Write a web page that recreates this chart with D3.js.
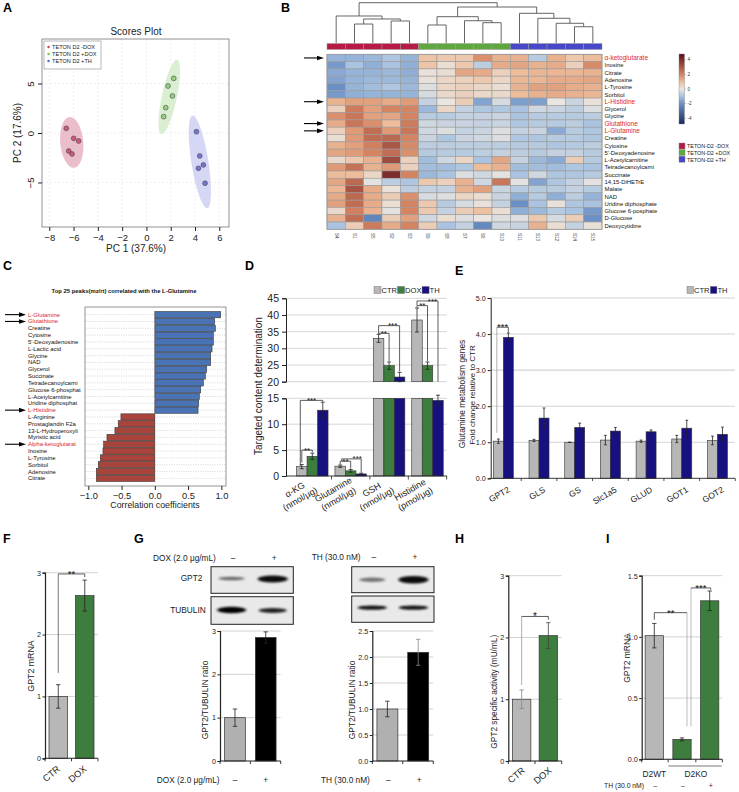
<!DOCTYPE html>
<html><head><meta charset="utf-8">
<script src="https://cdn.jsdelivr.net/npm/d3@7/dist/d3.min.js"></script>
<style>
html,body{margin:0;padding:0;background:#fff;}
svg{display:block;font-family:"Liberation Sans",Arial,Helvetica,sans-serif;}
</style></head><body>
<svg id="fig" width="739" height="792" viewBox="0 0 739 792"></svg>
<script>
// ================= DATA =================
// A: PCA scores
const pcaLegend = ["TETON D2 -DOX","TETON D2 +DOX","TETON D2 +TH"];
const pcaXTicks = [-8,-6,-4,-2,0,2,4,6];
const pcaYTicks = [-5,0,5];
const pcaMinusDox = [[-6.6,0.47],[-5.99,-0.54],[-5.58,-0.81],[-6.4,-1.82],[-6.13,-2.12]];
const pcaPlusDox  = [[2.25,5.52],[1.78,4.75],[2.14,3.74],[1.59,2.56],[1.42,1.65]];
const pcaPlusTH   = [[4.12,0.13],[4.39,-2.32],[4.69,-3.23],[4.28,-3.57],[4.83,-5.08]];
// confidence ellipses: [cx, cy, semi-axis x, semi-axis y, tilt deg]
const pcaEllipses = [[-6.15,-0.95,0.95,2.58,-5],[1.88,3.64,0.62,3.85,12],[4.4,-2.92,0.7,4.75,-9]];

// B: heatmap
const hmSamples = ["S4","S1","S5","S2","S3","S9","S8","S7","S6","S10","S11","S13","S12","S14","S15"];
const hmSampleGroup = [0,0,0,0,0,1,1,1,1,1,2,2,2,2,2];
const hmMetabolites = ["α-ketoglutarate","Inosine","Citrate","Adenosine","L-Tyrosine","Sorbitol","L-Histidine","Glycerol","Glycine","Glutathione","L-Glutamine","Creatine","Cytosine","5'-Deoxyadenosine","L-Acetylcarnitine","Tetradecanoylcarni","Succinate","14,15-DiHETrE","Malate","NAD","Uridine diphosphate","Glucose 6-posphate","D-Glucose","Deoxycytidine"];
const hmHighlight = ["α-ketoglutarate","L-Histidine","Glutathione","L-Glutamine"];
const hmValues = [
 [-1.3,-1.3,-1.2,-0.9,-1.3, 0.8,0.7,0.7,1.8,1.2, 1.2,-0.8,1.2,0.7,1.0],
 [-1.8,-1.0,-1.4,-1.0,-1.4, 0.8,0.2,0.7,-0.7,1.3, 1.4,1.2,1.3,0.5,1.9],
 [-1.5,-1.3,-1.3,-1.2,-1.4, 0.1,0.2,1.4,1.3,0.5, 1.0,1.1,1.1,1.1,1.2],
 [-1.6,-1.3,-1.2,-1.2,-1.3, 0.1,0.4,0.5,0.7,0.4, 1.1,1.1,1.3,1.3,1.4],
 [-2.0,-1.3,-1.1,-0.9,-1.2, -0.2,0.4,0.5,0.4,0.2, 1.2,1.5,1.5,1.3,1.2],
 [-1.8,-1.4,-1.3,-1.3,-1.3, -0.3,0.3,0.5,0.3,0.3, 1.0,1.2,1.3,1.2,1.1],
 [1.2,1.5,1.5,1.3,1.6, -0.6,0.0,0.6,-1.6,-0.3, -1.7,-1.7,0.0,-0.5,0.1],
 [0.5,2.2,1.5,2.0,2.0, -1.2,0.4,-0.6,-0.9,-0.9, -1.0,-0.4,-0.5,-0.7,-0.2],
 [1.8,2.3,1.5,1.4,2.0, -0.8,-0.8,-0.6,-0.6,-0.5, -1.0,-0.8,-0.8,-0.8,-0.7],
 [1.3,2.3,1.8,1.0,2.2, -0.4,-0.5,-0.5,-0.6,-0.5, -0.9,-0.8,-0.8,-0.7,-1.0],
 [0.5,1.6,2.5,1.6,2.3, -0.4,-0.2,-0.6,-0.5,-0.2, -0.6,-0.5,-1.5,-0.8,-0.9],
 [0.2,1.6,2.5,2.6,2.0, -0.5,-0.9,-0.5,-0.4,-0.2, -0.9,-0.9,-0.8,-0.8,-0.9],
 [1.2,1.5,2.1,3.0,1.9, -0.7,-0.7,-0.7,-0.7,-0.7, -0.8,-0.8,-0.9,-0.8,-0.7],
 [1.4,1.6,2.0,2.5,1.8, -0.8,-0.8,-0.8,-0.7,-0.6, -0.7,-0.8,-0.6,-0.6,-0.8],
 [0.3,0.7,1.2,3.3,0.5, -1.1,-0.4,0.4,-1.0,1.4, -0.6,-1.2,-1.5,0.6,-0.8],
 [1.6,2.4,1.2,1.6,0.5, -1.1,-1.1,-0.9,1.0,1.2, -1.1,-1.1,-1.1,-0.9,-1.0],
 [1.0,1.0,0.4,4.0,2.0, -1.2,-1.0,-0.2,-0.4,-0.1, -1.0,-0.4,-0.9,-0.9,-0.8],
 [1.4,2.6,-0.1,-0.7,-0.9, 0.7,0.5,1.2,-0.4,2.3, -0.1,-1.6,-0.9,-0.6,-0.1],
 [1.1,3.1,1.3,0.1,-0.7, -0.6,-0.6,1.2,1.5,-0.5, -0.8,-0.8,-0.8,-0.6,-0.8],
 [1.3,2.6,1.3,0.6,1.8, -0.3,-0.2,0.4,0.2,-0.5, -1.4,-0.8,-1.4,-0.7,-1.3],
 [1.5,2.5,1.3,0.2,2.0, 0.7,-0.8,-0.3,0.1,-0.6, -2.0,-1.0,0.1,-0.9,-1.0],
 [0.3,2.1,1.2,-0.1,2.0, 0.7,-0.6,0.6,0.9,0.2, -1.4,-1.2,-0.8,-1.0,-1.8],
 [1.2,2.5,-2.3,0.6,1.5, -0.4,0.2,-0.2,0.0,-0.2, -0.2,0.7,-0.3,0.6,-2.0],
 [-1.0,0.6,2.2,1.3,2.0, 0.6,-1.0,-0.6,-2.2,-0.4, -0.5,1.2,0.2,-0.6,0.1]
];
const hmScaleTicks = [4,2,0,-2,-4];
const hmLegend = ["TETON-D2 -DOX","TETON-D2 +DOX","TETON-D2 +TH"];
// column dendrogram (merge heights)
const hmTree = {h:10,c:[
  {h:6.7,c:["S4",{h:5.96,c:[{h:4.71,c:["S1","S5"]},{h:5.46,c:["S2","S3"]}]}]},
  {h:8.93,c:[
    {h:6.53,c:[{h:4.47,c:["S9","S8"]},{h:5.53,c:["S7",{h:5.04,c:["S6","S10"]}]}]},
    {h:7.37,c:["S11",{h:6.13,c:["S13",{h:4.89,c:["S12",{h:4.04,c:["S14","S15"]}]}]}]}
  ]}
]};

// C: correlation
const corrNames = ["L-Glutamine","Glutathione","Creatine","Cytosine","5'-Deoxyadenosine","L-Lactic acid","Glycine","NAD","Glycerol","Succinate","Tetradecanoylcarni","Glucose 6-phosphat","L-Acetylcarnitine","Uridine diphosphat","L-Histidine","L-Arginine","Prostaglandin F2a","13-L-Hydroperoxyli","Myristic acid","Alpha-ketoglutarat","Inosine","L-Tyrosine","Sorbitol","Adenosine","Citrate"];
const corrValues = [0.99,0.90,0.91,0.88,0.88,0.86,0.84,0.84,0.78,0.76,0.73,0.69,0.67,0.66,0.65,-0.51,-0.55,-0.60,-0.72,-0.77,-0.78,-0.82,-0.85,-0.88,-0.88];
const corrHighlight = ["L-Glutamine","Glutathione","L-Histidine","Alpha-ketoglutarat"];
const corrTicks = [-1.0,-0.5,0.0,0.5,1.0];

// D: targeted content
const dCats = [["α-KG","(nmol/μg)"],["Glutamine","(nmol/μg)"],["GSH","(nmol/μg)"],["Histidine","(pmol/μg)"]];
const dSeries = ["CTR","DOX","TH"];
const dMeans = [[1.8,1.9,33.0,38.5],[3.8,1.0,24.8,24.8],[12.7,0.4,21.4,14.6]];
const dErr   = [[0.4,0.23,1.2,3.6],[0.6,0.25,1.1,1.1],[1.55,0.15,1.4,1.0]];
const dTicksUpper = [20,25,30,35,40,45];
const dTicksLower = [0,5,10,15];

// E: genes
const eGenes = ["GPT2","GLS","GS","Slc1a5","GLUD","GOT1","GOT2"];
const eSeries = ["CTR","TH"];
const eCtr = [1.03,1.05,1.0,1.06,1.03,1.09,1.05];
const eCtrErr = [0.06,0.03,0.0,0.13,0.03,0.1,0.12];
const eTh = [3.91,1.67,1.41,1.31,1.29,1.39,1.22];
const eThErr = [0.12,0.28,0.12,0.1,0.05,0.22,0.2];
const eTicks = [0,1,2,3,4,5];

// F
const fCats = ["CTR","DOX"]; const fVals = [1.0,2.63]; const fErr = [0.19,0.25]; const fTicks=[0,1,2,3];
// G
const gLanes = ["–","+"];
const gDoxVals = [1.0,2.85]; const gDoxErr = [0.2,0.13]; const gDoxTicks=[0,1,2,3];
const gThVals = [1.0,2.09]; const gThErr = [0.15,0.25]; const gThTicks=[0,0.5,1.0,1.5,2.0,2.5];
const gBlotGPT2Dox = [0.55,0.95]; const gBlotTubDox = [1.0,0.85];
const gBlotGPT2TH = [0.5,0.95];  const gBlotTubTH = [0.92,0.92];
// H
const hCats = ["CTR","DOX"]; const hVals=[1.0,2.03]; const hErr=[0.15,0.21]; const hTicks=[0,1,2,3];
// I
const iCats = ["D2WT","D2KO-","D2KO+"]; const iTH = ["–","–","+"];
const iVals=[1.01,0.163,1.295]; const iErr=[0.1,0.012,0.08]; const iTicks=[0,0.5,1.0,1.5];

// ================= DRAW =================
const svg = d3.select("#fig");
const defs = svg.append("defs");
defs.append("filter").attr("id","blur").attr("x","-40%").attr("y","-150%").attr("width","180%").attr("height","400%")
  .append("feGaussianBlur").attr("stdDeviation","1.8 1.1");
const C_CTR="#b7b7b7", C_DOX="#3d7d3d", C_TH="#17107f", EDGE="#333";

function txt(g,x,y,s,o={}){
  const t=g.append("text").attr("x",x).attr("y",y).text(s).attr("font-size",o.size||8).attr("fill",o.fill||"#111");
  if(o.anchor) t.attr("text-anchor",o.anchor);
  if(o.weight) t.attr("font-weight",o.weight);
  if(o.rot!=null) t.attr("transform",`rotate(${o.rot},${x},${y})`);
  return t;
}
function panelLabel(s,x,y){ txt(svg,x,y,s,{size:12.5,weight:"bold",fill:"#000"}); }
function arrow(g,x1,x2,y){
  g.append("line").attr("x1",x1).attr("x2",x2-5).attr("y1",y).attr("y2",y).attr("stroke","#000").attr("stroke-width",1.1);
  g.append("path").attr("d",`M${x2},${y}L${x2-7},${y-2.3}L${x2-7},${y+2.3}Z`).attr("fill","#000");
}
function line(g,x1,y1,x2,y2,c,w){ return g.append("line").attr("x1",x1).attr("y1",y1).attr("x2",x2).attr("y2",y2).attr("stroke",c||"#222").attr("stroke-width",w||0.8); }
function errBar(g,x,yv,ylo,yhi,cw,c){ line(g,x,ylo,x,yhi,c||"#222",0.8); line(g,x-cw,ylo,x+cw,ylo,c||"#222",0.8); line(g,x-cw,yhi,x+cw,yhi,c||"#222",0.8); }
function bracket(g,xa,xb,yLine,yaEnd,ybEnd,label,o={}){
  line(g,xa,yLine,xa,yaEnd,o.ca||"#333",0.8);
  line(g,xb,yLine,xb,ybEnd,o.cb||"#333",0.8);
  line(g,xa,yLine,xb,yLine,"#333",0.8);
  const sz=o.size||9;
  txt(g,o.tx!=null?o.tx:(xa+xb)/2,yLine+sz*0.32,label,{size:sz,anchor:"middle",fill:"#111"});
}
function styleAxis(sel,size){
  sel.selectAll("text").attr("font-size",size).attr("fill","#222").attr("font-family","Liberation Sans, Arial, sans-serif");
  sel.selectAll("line").attr("stroke","#222");
  sel.select(".domain").attr("stroke","#222");
}

// ---------- Panel A ----------
panelLabel("A",3,12);
{
  const g = svg.append("g");
  const x = d3.scaleLinear().domain([-8.6,6.8]).range([42,229]);
  const y = d3.scaleLinear().domain([-9.5,9.5]).range([227,39]);
  txt(g,136,35,"Scores Plot",{size:10,anchor:"middle",fill:"#222"});
  g.selectAll(".gx").data(pcaXTicks).join("line").attr("x1",d=>x(d)).attr("x2",d=>x(d)).attr("y1",39).attr("y2",227)
    .attr("stroke","#e2e2e2").attr("stroke-width",0.6).attr("stroke-dasharray","2,2");
  g.selectAll(".gy").data(pcaYTicks).join("line").attr("y1",d=>y(d)).attr("y2",d=>y(d)).attr("x1",42).attr("x2",229)
    .attr("stroke","#e2e2e2").attr("stroke-width",0.6).attr("stroke-dasharray","2,2");
  const ellFill=["#e7b3c2","#d3ecc9","#cfcff3"];
  pcaEllipses.forEach(([cx,cy,rx,ry,a],i)=>{
    g.append("ellipse").attr("cx",x(cx)).attr("cy",y(cy)).attr("rx",x(cx+rx)-x(cx)).attr("ry",y(cy)-y(cy+ry))
      .attr("transform",`rotate(${a},${x(cx)},${y(cy)})`).attr("fill",ellFill[i]).attr("opacity",0.85);
  });
  const ptFill=["#cf5a79","#97d081","#7676d6"];
  [pcaMinusDox,pcaPlusDox,pcaPlusTH].forEach((pts,i)=>{
    g.selectAll(null).data(pts).join("circle").attr("cx",d=>x(d[0])).attr("cy",d=>y(d[1])).attr("r",2.4)
      .attr("fill",ptFill[i]).attr("stroke","#444").attr("stroke-width",0.6);
  });
  g.append("rect").attr("x",42).attr("y",39).attr("width",187).attr("height",188).attr("fill","none").attr("stroke","#777").attr("stroke-width",0.8);
  const xa = g.append("g").attr("transform","translate(0,227)").call(d3.axisBottom(x).tickValues(pcaXTicks).tickSize(4).tickPadding(3));
  xa.select(".domain").remove(); styleAxis(xa,9.5);
  const ya = g.append("g").attr("transform","translate(42,0)").call(d3.axisLeft(y).tickValues(pcaYTicks).tickSize(4));
  ya.select(".domain").remove(); styleAxis(ya,9.5);
  ya.selectAll("text").attr("transform","rotate(-90)").attr("x",0).attr("y",-8).attr("dy",0).attr("text-anchor","middle");
  txt(g,136,252,"PC 1 (37.6%)",{size:10,anchor:"middle",fill:"#222"});
  txt(g,21,133,"PC 2 (17.6%)",{size:10,anchor:"middle",fill:"#222",rot:-90});
  // legend
  g.append("rect").attr("x",44).attr("y",41).attr("width",57).attr("height",28).attr("fill","#fff").attr("stroke","#888").attr("stroke-width",0.6);
  const legC=["#c8405f","#6fc05a","#5a5ad0"];
  pcaLegend.forEach((s,i)=>{
    g.append("circle").attr("cx",48.5).attr("cy",47+i*7).attr("r",1.2).attr("fill",legC[i]);
    txt(g,52,49+i*7,s,{size:5.6,fill:"#222"});
  });
}

// ---------- Panel B ----------
panelLabel("B",281,12);
{
  const g = svg.append("g");
  const hx = d3.scaleBand().domain(hmSamples).range([327,602]);
  const hy = d3.scaleBand().domain(hmMetabolites).range([54.3,229.3]);
  const color = d3.scaleLinear().domain([-4.8,-2,-1,0,1,2,4.8])
    .range(["#1b2a5e","#6a90c6","#a9c3e0","#e9e5e0","#edbc9a","#d58462","#5a0a18"]).interpolate(d3.interpolateRgb);
  const grpColor=["#b51b45","#5ea83f","#4747c9"];
  // dendrogram
  const dy = d3.scaleLinear().domain([0,10]).range([43,2.7]);
  function lay(node){
    if(typeof node==="string") return {x:hx(node)+hx.bandwidth()/2,h:0};
    const a=lay(node.c[0]), b=lay(node.c[1]);
    g.append("path").attr("d",`M${a.x},${dy(a.h)}V${dy(node.h)}H${b.x}V${dy(b.h)}`).attr("fill","none").attr("stroke","#555").attr("stroke-width",0.9);
    return {x:(a.x+b.x)/2,h:node.h};
  }
  lay(hmTree);
  // group bar
  g.selectAll(null).data(hmSamples).join("rect").attr("x",d=>hx(d)).attr("y",43.5).attr("width",hx.bandwidth()).attr("height",6)
    .attr("fill",(d,i)=>grpColor[hmSampleGroup[i]]).attr("stroke","#999").attr("stroke-width",0.5);
  // cells
  hmValues.forEach((row,r)=>{
    g.selectAll(null).data(row).join("rect").attr("x",(d,i)=>hx(hmSamples[i])).attr("y",hy(hmMetabolites[r]))
      .attr("width",hx.bandwidth()).attr("height",hy.bandwidth()).attr("fill",d=>color(d)).attr("stroke","#9a9a9a").attr("stroke-width",0.6);
  });
  g.append("rect").attr("x",327).attr("y",54.3).attr("width",275).attr("height",175).attr("fill","none").attr("stroke","#999").attr("stroke-width",0.8);
  // row labels
  hmMetabolites.forEach(m=>{
    const hi = hmHighlight.includes(m);
    txt(g,604.5,hy(m)+hy.bandwidth()/2+(hi?2.4:2.1),m,{size:hi?6.5:5.9,fill:hi?"#e01e2b":"#111"});
  });
  // col labels
  hmSamples.forEach(s=>{ const cx=hx(s)+hx.bandwidth()/2; txt(g,cx-1.5,233,s,{size:4.6,fill:"#445",rot:90}); });
  // arrows
  hmHighlight.forEach(m=>arrow(g,304,324,hy(m)+hy.bandwidth()/2));
  // colour key
  const ky = d3.scaleLinear().domain([-4.8,4.8]).range([124,54]);
  const grad = defs.append("linearGradient").attr("id","hmgrad").attr("x1",0).attr("y1",1).attr("x2",0).attr("y2",0);
  d3.range(0,1.0001,0.05).forEach(t=>grad.append("stop").attr("offset",t).attr("stop-color",color(-4.8+9.6*t)));
  g.append("rect").attr("x",679).attr("y",54).attr("width",5.5).attr("height",70).attr("fill","url(#hmgrad)").attr("stroke","#888").attr("stroke-width",0.4);
  hmScaleTicks.forEach(t=>{ line(g,684.5,ky(t),686,ky(t),"#666",0.4); txt(g,687.5,ky(t)+1.6,String(t),{size:4.6,fill:"#333"}); });
  hmLegend.forEach((s,i)=>{
    g.append("rect").attr("x",679).attr("y",143+i*6.6).attr("width",6).attr("height",6).attr("fill",grpColor[i]).attr("stroke","#888").attr("stroke-width",0.4);
    txt(g,687,148.3+i*6.6,s,{size:5.4,fill:"#222"});
  });
}

// ---------- Panel C ----------
panelLabel("C",3,270);
{
  const g = svg.append("g");
  const x = d3.scaleLinear().domain([-1.05,1.07]).range([85,226]);
  const y = d3.scaleBand().domain(corrNames).range([311.5,481.5]).paddingInner(0.08);
  txt(g,124,293,"Top 25 peaks(mz/rt) correlated with the L-Glutamine",{size:5.9,weight:"bold",anchor:"middle",fill:"#111"});
  corrNames.forEach(n=>{ const yc=y(n)+y.bandwidth()/2; line(g,85,yc,226,yc,"#c4c4c4",0.6).attr("stroke-dasharray","1.2,1.2"); });
  g.selectAll(null).data(corrValues).join("rect").attr("x",d=>x(Math.min(0,d))).attr("width",d=>Math.abs(x(d)-x(0)))
    .attr("y",(d,i)=>y(corrNames[i])).attr("height",y.bandwidth())
    .attr("fill",d=>d>0?"#4a73b6":"#a8443b").attr("stroke","#3a3a3a").attr("stroke-width",0.6);
  g.append("rect").attr("x",85).attr("y",307).attr("width",141).attr("height",179).attr("fill","none").attr("stroke","#888").attr("stroke-width",0.9);
  const xa = g.append("g").attr("transform","translate(0,486)").call(d3.axisBottom(x).tickValues(corrTicks).tickFormat(d3.format(".1f")).tickSize(4).tickPadding(2));
  xa.select(".domain").remove(); styleAxis(xa,9.3);
  txt(g,155,508,"Correlation coefficients",{size:8.8,anchor:"middle",fill:"#222"});
  corrNames.forEach(n=>{
    const hi = corrHighlight.includes(n);
    txt(g,28,y(n)+y.bandwidth()/2+2,n,{size:5.9,fill:hi?"#e01e2b":"#111"});
    if(hi) arrow(g,5,26,y(n)+y.bandwidth()/2);
  });
}

// ---------- Panel D ----------
panelLabel("D",245,270);
{
  const g = svg.append("g");
  const yU = d3.scaleLinear().domain([20,45]).range([381.7,298.3]);
  const yL = d3.scaleLinear().domain([0,15]).range([476,398.3]);
  const x0 = d3.scaleBand().domain(d3.range(dCats.length)).range([293.1,446.7]).paddingInner(0.18).paddingOuter(0.09);
  const x1 = d3.scaleBand().domain(dSeries).range([0,x0.bandwidth()]);
  const cols = [C_CTR,C_DOX,C_TH];
  const AX=286, RIGHT=447;
  dTicksUpper.forEach(t=>line(g,AX,yU(t),RIGHT,yU(t),"#d6d6d6",1));
  dTicksLower.slice(1).forEach(t=>line(g,AX,yL(t),RIGHT,yL(t),"#d6d6d6",1));
  const bx = (s,i)=>x0(i)+x1(s);
  dSeries.forEach((s,si)=>{
    dMeans[si].forEach((v,i)=>{
      const X=bx(s,i), W=x1.bandwidth();
      g.append("rect").attr("x",X).attr("y",yL(Math.min(v,15))).attr("width",W).attr("height",yL(0)-yL(Math.min(v,15))).attr("fill",cols[si]).attr("stroke",EDGE).attr("stroke-width",0.6);
      const e=dErr[si][i], cx=X+W/2;
      if(v>20){
        g.append("rect").attr("x",X).attr("y",yU(v)).attr("width",W).attr("height",yU(20)-yU(v)).attr("fill",cols[si]).attr("stroke",EDGE).attr("stroke-width",0.6);
        errBar(g,cx,yU(v),yU(v-e),yU(v+e),2);
      } else {
        errBar(g,cx,yL(v),yL(v-e),yL(v+e),2);
      }
    });
  });
  const au = g.append("g").attr("transform",`translate(${AX},0)`).call(d3.axisLeft(yU).tickValues(dTicksUpper).tickSize(4).tickPadding(3));
  styleAxis(au,10.5);
  const al = g.append("g").attr("transform",`translate(${AX},0)`).call(d3.axisLeft(yL).tickValues(dTicksLower).tickSize(4).tickPadding(3));
  styleAxis(al,10.5);
  line(g,AX,476,RIGHT,476,"#222",0.9);
  const step=x0.step();
  d3.range(dCats.length).forEach(i=>{ const b=x0(i)+x0.bandwidth()+(step-x0.bandwidth())/2; line(g,b,476,b,479.5,"#222",0.8); });
  txt(g,262,386,"Targeted content determination",{size:10,anchor:"middle",fill:"#222",rot:-90});
  dCats.forEach((c,i)=>{
    const gc=x0(i)+x0.bandwidth()/2;
    const lg=g.append("g").attr("transform",`translate(${gc},482) rotate(-30)`);
    txt(lg,-19,1,c[0],{size:9,anchor:"middle",fill:"#222"});
    txt(lg,-19,11.5,c[1],{size:9,anchor:"middle",fill:"#222"});
  });
  // significance
  const cc=(s,i)=>bx(s,i)+x1.bandwidth()/2;
  const S=8;
  bracket(g,cc("CTR",0),cc("DOX",0),yL(5.0),yL(2.6),yL(4.6),"**",{size:S});
  bracket(g,cc("CTR",0)-1.5,cc("TH",0),yL(14.6),yL(1.9),yL(14.4),"***",{size:S});
  bracket(g,cc("CTR",1),cc("DOX",1),yL(2.85),yL(2.3),yL(1.4),"**",{size:S});
  bracket(g,cc("CTR",1)+1.5,cc("TH",1),yL(3.3),yL(2.9),yL(0.7),"***",{size:S,tx:cc("TH",1)-4});
  bracket(g,cc("CTR",2),cc("DOX",2),yU(34.5),yU(34.3),yU(26.2),"**",{size:S});
  bracket(g,cc("CTR",2),cc("TH",2),yU(36.8),yU(34.6),yU(23.1),"***",{size:S,tx:cc("TH",2)-7});
  bracket(g,cc("CTR",3),cc("DOX",3),yU(42.8),yU(42.3),yU(26.2),"**",{size:S});
  bracket(g,cc("CTR",3),cc("TH",3),yU(44.2),yU(42.9),yU(20),"***",{size:S,tx:cc("TH",3)-5.5});
  // legend
  let lx=374;
  dSeries.forEach((s,i)=>{
    g.append("rect").attr("x",lx).attr("y",286.5).attr("width",7).attr("height",7).attr("fill",cols[i]).attr("stroke","#666").attr("stroke-width",0.4);
    const t=txt(g,lx+7.5,293.3,s,{size:7.6,fill:"#222"});
    lx += 7.5 + t.node().getComputedTextLength() + 0.5;
  });
}

// ---------- Panel E ----------
panelLabel("E",455,275);
{
  const g = svg.append("g");
  const y = d3.scaleLinear().domain([0,5]).range([478.3,298]);
  const x0 = d3.scaleBand().domain(eGenes).range([485.5,735.3]).paddingInner(0.44).paddingOuter(0.22);
  const x1 = d3.scaleBand().domain(eSeries).range([0,x0.bandwidth()]);
  const AX=490.7, RIGHT=735;
  eTicks.slice(1).forEach(t=>line(g,AX,y(t),RIGHT,y(t),"#d3d3d3",1.1));
  const vals=[eCtr,eTh], errs=[eCtrErr,eThErr], cols=[C_CTR,C_TH];
  eSeries.forEach((s,si)=>{
    eGenes.forEach((gn,i)=>{
      const v=vals[si][i], e=errs[si][i], X=x0(gn)+x1(s), W=x1.bandwidth();
      g.append("rect").attr("x",X).attr("y",y(v)).attr("width",W).attr("height",y(0)-y(v)).attr("fill",cols[si]).attr("stroke",EDGE).attr("stroke-width",0.6);
      errBar(g,X+W/2,y(v),y(v-e),y(v+e),1.4);
    });
  });
  const ay = g.append("g").attr("transform",`translate(${AX},0)`).call(d3.axisLeft(y).tickValues(eTicks).tickSize(3).tickPadding(2));
  styleAxis(ay,7.2);
  line(g,AX,478.3,RIGHT,478.3,"#222",0.9);
  eGenes.forEach((gn,i)=>{ const b=x0(gn)+x0.bandwidth()+x0.step()*0.22; line(g,b,478.3,b,481,"#222",0.8); });
  eGenes.forEach(gn=>{ const gc=x0(gn)+x0.bandwidth()/2; txt(g,gc+7,491.5,gn,{size:8.5,anchor:"end",fill:"#222",rot:-30}); });
  txt(g,464.5,394,"Glutamine metabolism genes",{size:8.4,anchor:"middle",fill:"#222",rot:-90});
  txt(g,474.5,395,"Fold change relative to CTR",{size:8.0,anchor:"middle",fill:"#222",rot:-90});
  const xc=(s,gn)=>x0(gn)+x1(s)+x1.bandwidth()/2;
  bracket(g,xc("CTR","GPT2")-1.5,xc("TH","GPT2"),y(4.19),y(1.26),y(4.05),"***",{size:9.5,ca:"#9a9a9a"});
  let lx=687;
  eSeries.forEach((s,i)=>{
    g.append("rect").attr("x",lx).attr("y",286.5).attr("width",6.5).attr("height",7).attr("fill",cols[i]).attr("stroke","#666").attr("stroke-width",0.4);
    const t=txt(g,lx+7,293.3,s,{size:7.6,fill:"#222"});
    lx += 7 + t.node().getComputedTextLength() + 0.8;
  });
}

// generic small bar panel
function smallBars(o){
  const g = svg.append("g");
  const y = d3.scaleLinear().domain([0,o.max]).range([o.y0,o.yTop]);
  const x = d3.scaleBand().domain(o.cats).range([o.x0,o.x1]).paddingInner(o.pi).paddingOuter(o.po);
  o.ticks.slice(1).forEach(t=>line(g,o.x0,y(t),o.x1,y(t),"#d2d2d2",1));
  o.cats.forEach((c,i)=>{
    const v=o.vals[i], e=o.errs[i];
    g.append("rect").attr("x",x(c)).attr("y",y(v)).attr("width",x.bandwidth()).attr("height",y(0)-y(v)).attr("fill",o.colors[i]).attr("stroke",EDGE).attr("stroke-width",0.7);
    errBar(g,x(c)+x.bandwidth()/2,y(v),y(v-e),y(v+e),2.2,o.errColor?o.errColor[i]:"#222");
  });
  const ay = g.append("g").attr("transform",`translate(${o.x0},0)`).call(d3.axisLeft(y).tickValues(o.ticks).tickSize(2.5).tickPadding(1.5).tickFormat(o.fmt||d3.format("d")));
  styleAxis(ay,7.2);
  ay.select(".domain").attr("stroke-width",1.2);
  line(g,o.x0,o.y0,o.x1,o.y0,"#222",1.1);
  const bounds=[o.x0];
  o.cats.forEach((c,i)=>{ if(i<o.cats.length-1) bounds.push((x(c)+x.bandwidth()+x(o.cats[i+1]))/2); });
  bounds.push(o.x1);
  bounds.forEach(b=>line(g,b,o.y0,b,o.y0+3,"#222",0.9));
  return {g,x,y,cx:c=>x(c)+x.bandwidth()/2};
}

// ---------- Panel F ----------
panelLabel("F",3,543);
{
  const p = smallBars({x0:45,x1:98,y0:758.3,yTop:572.7,max:3,ticks:fTicks,cats:fCats,vals:fVals,errs:fErr,colors:[C_CTR,C_DOX],pi:0.3,po:0.15});
  txt(p.g,33.5,666,"GPT2 mRNA",{size:8.8,anchor:"middle",fill:"#222",rot:-90});
  fCats.forEach(c=>txt(p.g,p.cx(c)+2.5,770,c,{size:9.3,anchor:"end",fill:"#222",rot:-40}));
  bracket(p.g,p.cx("CTR"),p.cx("DOX"),p.y(2.98),p.y(1.38),p.y(2.93),"**",{size:9.5,ca:"#555"});
}

// ---------- Panel G ----------
panelLabel("G",134,543);
{
  const g = svg.append("g");
  function blot(x0,x1,y0,y1,bands,yOff,rxs,rys){
    g.append("rect").attr("x",x0).attr("y",y0).attr("width",x1-x0).attr("height",y1-y0).attr("fill","#e9e9e9").attr("stroke","#222").attr("stroke-width",1);
    const lx=d3.scaleBand().domain(gLanes).range([x0,x1]);
    bands.forEach((b,i)=>{
      const cx=lx(gLanes[i])+lx.bandwidth()/2, cy=(y0+y1)/2+yOff[i];
      g.append("ellipse").attr("cx",cx).attr("cy",cy).attr("rx",rxs[i]).attr("ry",rys[i]).attr("fill","#000").attr("opacity",b).attr("filter","url(#blur)");
    });
    return lx;
  }
  const lxL = blot(211,293.3,566.7,593.3,gBlotGPT2Dox,[-1.5,-1],[13,15],[1.8,3.4]);
  blot(211,293.3,596.7,624.3,gBlotTubDox,[-0.5,0],[14.5,14],[3.2,2.4]);
  const lxR = blot(351.7,434,566.7,592.7,gBlotGPT2TH,[0,0],[13,15],[2.2,3.8]);
  blot(351.7,434,596,622.3,gBlotTubTH,[-1.5,-1.5],[14.5,14.5],[2.2,2.2]);
  txt(g,191.5,581,"GPT2",{size:8.3,anchor:"middle",fill:"#222"});
  txt(g,188,613,"TUBULIN",{size:8.3,anchor:"middle",fill:"#222"});
  txt(g,153,561,"DOX (2.0 μg/mL)",{size:8.3,fill:"#222"});
  gLanes.forEach(l=>txt(g,lxL(l)+lxL.bandwidth()/2+1.5,561,l,{size:8.3,anchor:"middle",fill:"#222"}));
  txt(g,311.7,560,"TH (30.0 nM)",{size:8.3,fill:"#222"});
  gLanes.forEach(l=>txt(g,lxR(l)+lxR.bandwidth()/2+1.5,560,l,{size:8.3,anchor:"middle",fill:"#222"}));

  const p1 = smallBars({x0:220,x1:280.7,y0:761,yTop:631,max:3,ticks:gDoxTicks,cats:gLanes,vals:gDoxVals,errs:gDoxErr,colors:["#b0b0b0","#000"],pi:0.326,po:0.15});
  txt(p1.g,208.3,700,"GPT2/TUBULIN ratio",{size:8.4,anchor:"middle",fill:"#222",rot:-90});
  txt(p1.g,156.7,783,"DOX (2.0 μg/mL)",{size:8.3,fill:"#222"});
  gLanes.forEach(l=>txt(p1.g,p1.cx(l),783,l,{size:8.3,anchor:"middle",fill:"#222"}));
  const p2 = smallBars({x0:372.3,x1:433.3,y0:761,yTop:631,max:2.5,ticks:gThTicks,cats:gLanes,vals:gThVals,errs:gThErr,colors:["#b0b0b0","#000"],pi:0.32,po:0.15,fmt:d3.format(".1f"),errColor:["#222","#888"]});
  txt(p2.g,355,700,"GPT2/TUBULIN ratio",{size:8.4,anchor:"middle",fill:"#222",rot:-90});
  txt(p2.g,321,783,"TH (30.0 nM)",{size:8.3,fill:"#222"});
  gLanes.forEach(l=>txt(p2.g,p2.cx(l)+1,783,l,{size:8.3,anchor:"middle",fill:"#222"}));
}

// ---------- Panel H ----------
panelLabel("H",455,543);
{
  const p = smallBars({x0:508.3,x1:561.7,y0:761,yTop:575.7,max:3,ticks:hTicks,cats:hCats,vals:hVals,errs:hErr,colors:[C_CTR,C_DOX],pi:0.31,po:0.155,errColor:["#888","#444"]});
  txt(p.g,496.7,691.7,"GPT2 specific activity (mU/mL)",{size:8.3,anchor:"middle",fill:"#222",rot:-90});
  hCats.forEach(c=>txt(p.g,p.cx(c)+4,771.5,c,{size:9.3,anchor:"end",fill:"#222",rot:-40}));
  bracket(p.g,p.cx("CTR"),p.cx("DOX"),p.y(2.34),p.y(1.23),p.y(2.29),"*",{size:10,ca:"#999"});
}

// ---------- Panel I ----------
panelLabel("I",606,543);
{
  const p = smallBars({x0:641.7,x1:722.3,y0:759.3,yTop:575.7,max:1.5,ticks:iTicks,cats:iCats,vals:iVals,errs:iErr,colors:[C_CTR,C_DOX,C_DOX],pi:0.34,po:0.125,fmt:d3.format(".1f")});
  txt(p.g,630,658,"GPT2 mRNA",{size:8.5,anchor:"middle",fill:"#222",rot:-90});
  bracket(p.g,p.cx("D2WT"),p.cx("D2KO-")+5,p.y(1.198),p.y(1.14),p.y(0.27),"**",{size:9.5,cb:"#aaa"});
  bracket(p.g,p.cx("D2KO-")+9,p.cx("D2KO+")+1,p.y(1.4),p.y(0.27),p.y(1.385),"***",{size:9.5,ca:"#aaa"});
  line(p.g,668.3,766,721.7,766,"#555",0.8);
  txt(p.g,p.cx("D2WT"),776.7,"D2WT",{size:8.4,anchor:"middle",fill:"#222"});
  txt(p.g,(p.cx("D2KO-")+p.cx("D2KO+"))/2,776.7,"D2KO",{size:8.4,anchor:"middle",fill:"#222"});
  txt(p.g,604,787.5,"TH (30.0 nM)",{size:6.8,fill:"#222"});
  iCats.forEach((c,i)=>txt(p.g,p.cx(c)+1,787.5,iTH[i],{size:7,anchor:"middle",fill:"#222"}));
}
</script>
</body></html>
